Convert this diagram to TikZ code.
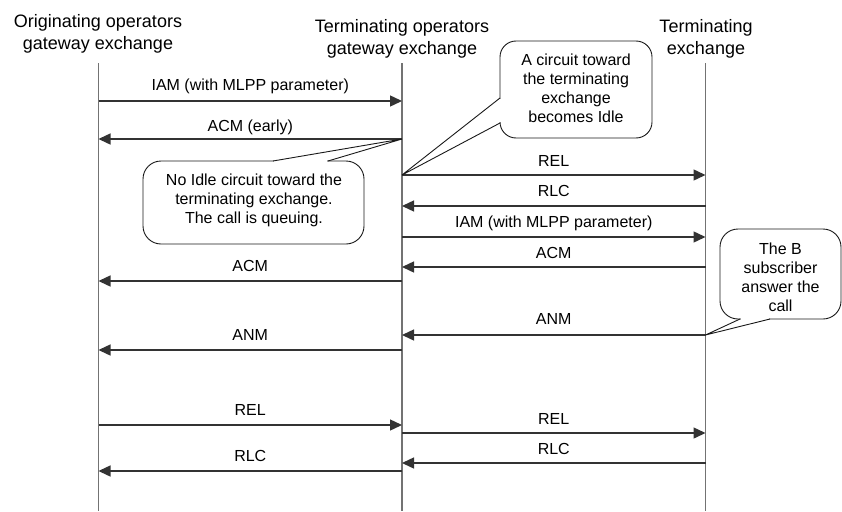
\documentclass[tikz,border=0pt]{standalone}
\usepackage{fontspec}
\setmainfont{Liberation Sans}
\usetikzlibrary{arrows.meta}

\begin{document}
\begin{tikzpicture}[x=1pt,y=-1pt,
  lifeline/.style={draw=black!55, line width=1.2pt},
  msg/.style={draw=black!80, line width=1.4pt, -{Triangle[length=12pt,width=11pt]}},
  msglabel/.style={font=\fontsize{16}{19}\selectfont, anchor=base, inner sep=0pt},
  header/.style={font=\fontsize{18}{22}\selectfont, align=center, inner sep=0pt},
  callout/.style={draw=black!90, line width=0.9pt},
  pointer/.style={draw=black!90, line width=0.9pt, line join=miter},
  gap/.style={fill=white},
  callouttext/.style={font=\fontsize{16}{19}\selectfont, align=center, inner sep=0pt},
]
\useasboundingbox (0,0) rectangle (842,511);

% column headers
\node[header] (hO) at (98,33.5) {Originating operators\\gateway exchange};
\node[header] (hG) at (402,39) {Terminating operators\\gateway exchange};
\node[header] (hT) at (706,39) {Terminating\\exchange};

% lifelines
\coordinate (Otop) at (98.5,63);  \coordinate (Obot) at (98.5,511);
\coordinate (Gtop) at (402,63);   \coordinate (Gbot) at (402,511);
\coordinate (Ttop) at (705.5,63); \coordinate (Tbot) at (705.5,511);
\draw[lifeline] (Otop) -- (Obot);
\draw[lifeline] (Gtop) -- (Gbot);
\draw[lifeline] (Ttop) -- (Tbot);

% message end points on the lifelines
\foreach \n/\y in {1/101,2/139,3/175,4/206,5/237,6/267,7/281,8/335,9/350,10/425,11/433,12/463,13/471}{
  \coordinate (O\n) at (98.5,\y);
  \coordinate (G\n) at (402,\y);
  \coordinate (T\n) at (705.5,\y);
}

% messages
\draw[msg] (O1) -- (G1) node[midway, msglabel, yshift=11pt] (l1) {IAM (with MLPP parameter)};
\draw[msg] (G2) -- (O2) node[midway, msglabel, yshift=8pt] (l2) {ACM (early)};
\draw[msg] (G3) -- (T3) node[midway, msglabel, yshift=9pt] (l3) {REL};
\draw[msg] (T4) -- (G4) node[midway, msglabel, yshift=10pt] (l4) {RLC};
\draw[msg] (G5) -- (T5) node[midway, msglabel, yshift=10pt] (l5) {IAM (with MLPP parameter)};
\draw[msg] (T6) -- (G6) node[midway, msglabel, yshift=9pt] (l6) {ACM};
\draw[msg] (G7) -- (O7) node[midway, msglabel, yshift=10pt] (l7) {ACM};
\draw[msg] (T8) -- (G8) node[midway, msglabel, yshift=11pt] (l8) {ANM};
\draw[msg] (G9) -- (O9) node[midway, msglabel, yshift=10pt] (l9) {ANM};
\draw[msg] (O10) -- (G10) node[midway, msglabel, yshift=10pt] (l10) {REL};
\draw[msg] (G11) -- (T11) node[midway, msglabel, yshift=9pt] (l11) {REL};
\draw[msg] (T12) -- (G12) node[midway, msglabel, yshift=9pt] (l12) {RLC};
\draw[msg] (G13) -- (O13) node[midway, msglabel, yshift=10pt] (l13) {RLC};

% callout: circuit becomes idle (pointer leaves the left side)
\draw[callout, rounded corners=16pt] (500,41) rectangle (652,138);
\fill[gap] (498.5,98.6) rectangle (501.5,122.4);
\draw[pointer] (500,98) -- (G3) -- (500,123);
\node[callouttext] (c1) at (576,88) {A circuit toward\\the terminating\\exchange\\becomes Idle};

% callout: call is queuing (pointer leaves the top side)
\draw[callout, rounded corners=18pt] (143,161) rectangle (364,244);
\fill[gap] (273.6,159.5) rectangle (327.4,162.5);
\draw[pointer] (273,161) -- (G2) -- (328,161);
\node[callouttext] (c2) at (254,200) {No Idle circuit toward the\\terminating exchange.\\The call is queuing.};

% callout: B subscriber answers (pointer leaves the bottom side)
\draw[callout, rounded corners=18pt] (720,229) rectangle (841,319);
\fill[gap] (740.6,317.5) rectangle (769.4,320.5);
\draw[pointer] (740,319) -- (T8) -- (770,319);
\node[callouttext] (c3) at (780.5,277) {The B\\subscriber\\answer the\\call};
\end{tikzpicture}
\end{document}
